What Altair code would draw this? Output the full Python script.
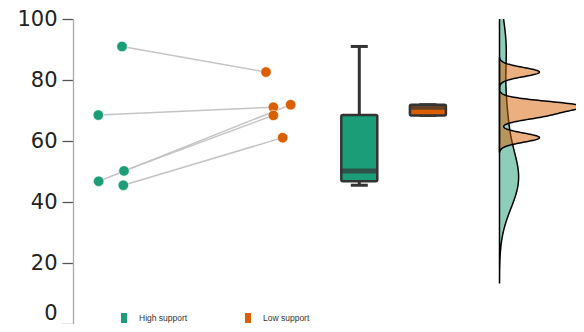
import altair as alt
import pandas as pd

# ---- data ----
groups = ["High support", "Low support"]
colors = ["#1b9e77", "#d95f02"]
high_vals = [91.0, 68.5, 46.8, 50.2, 45.5]
low_vals = [82.6, 71.1, 71.9, 68.4, 61.1]
high_x = [1.072, 0.930, 0.932, 1.084, 1.080]   # jittered positions
low_x = [1.936, 1.980, 2.084, 1.980, 2.036]
box_pos = [2.5, 2.92]
bandwidths = [9.5, 1.5]
dens_extent = [[13.5, 123.0], [56.5, 87.1]]
y_ticks = [0, 20, 40, 60, 80, 100]

rows = []
for i, (v, x) in enumerate(zip(high_vals, high_x)):
    rows.append({"pair": i, "group": groups[0], "value": v, "jx": x, "bx": box_pos[0]})
for i, (v, x) in enumerate(zip(low_vals, low_x)):
    rows.append({"pair": i, "group": groups[1], "value": v, "jx": x, "bx": box_pos[1]})
df = pd.DataFrame(rows)

xpos = alt.Scale(domain=[0.778, 3.796], nice=False, zero=False)
dscale = alt.Scale(domain=[-0.56715, 0.10173], nice=False, zero=False)
yscale = alt.Scale(domain=[0, 100], nice=False, zero=False)
cscale = alt.Scale(domain=groups, range=colors)

yenc = alt.Y(
    "value:Q", scale=yscale, title=None,
    axis=alt.Axis(
        values=y_ticks, grid=False,
        labelBaseline={"condition": {"test": "datum.value === 0", "value": "bottom"},
                       "value": "middle"},
        labelOffset={"condition": {"test": "datum.value === 0", "value": -1},
                     "value": 0},
    ),
)

base = alt.Chart(df)

lines = base.mark_line(color="#c4c4c4", strokeWidth=1.5).encode(
    x=alt.X("jx:Q", scale=xpos, axis=None),
    y=yenc,
    detail="pair:N",
)

points = base.mark_circle(size=110, opacity=1, stroke="white", strokeWidth=0.6).encode(
    x=alt.X("jx:Q", scale=xpos, axis=None),
    y=yenc,
    color=alt.Color(
        "group:N", scale=cscale,
        legend=alt.Legend(
            title=None, orient="none", legendX=46, legendY=294,
            direction="horizontal",
            symbolType="M-0.6,-1H0.6V1H-0.6Z", symbolSize=100,
            symbolStrokeWidth=0, symbolOpacity=1,
            labelFont="Liberation Sans", labelFontSize=8.5, labelColor="#333333",
            labelOffset=10, columnPadding=55,
        ),
    ),
)

boxes = base.mark_boxplot(
    extent=1.5, size=36, orient="vertical", outliers=False,
    box={"stroke": "#333333", "strokeWidth": 2.5, "cornerRadius": 1.5},
    median={"color": "#333333", "thickness": 5},
    rule={"color": "#333333", "strokeWidth": 3},
    ticks={"color": "#333333", "size": 17, "thickness": 3},
).encode(
    x=alt.X("bx:Q", scale=xpos, axis=None),
    y=yenc,
    color=alt.Color("group:N", scale=cscale, legend=None),
)


def density_layer(i):
    return (
        alt.Chart(df)
        .transform_filter(alt.datum.group == groups[i])
        .transform_density("value", as_=["value", "density"],
                           bandwidth=bandwidths[i], extent=dens_extent[i], steps=300)
        .mark_area(orient="horizontal", fill=colors[i], fillOpacity=0.5,
                   stroke="black", strokeWidth=1.5, clip=True)
        .encode(
            x=alt.X("density:Q", scale=dscale, axis=None),
            x2=alt.datum(0),
            y=yenc,
        )
    )


chart = (
    alt.layer(lines, points, boxes, density_layer(0), density_layer(1))
    .resolve_scale(x="independent")
    .properties(
        width=503, height=305,
        autosize=alt.AutoSizeParams(type="none"),
        padding={"left": 65, "top": 11, "right": 0, "bottom": 0},
    )
    .configure_view(stroke=None)
    .configure_axisY(
        labelFont="DejaVu Sans", labelFontSize=21, labelColor="#222222",
        tickSize=11, tickColor="#555555", tickWidth=1.3,
        domainColor="#aaaaaa", domainWidth=1.3, labelPadding=5,
    )
)

chart.save("out.html", embed_options={"renderer": "svg", "actions": False})
